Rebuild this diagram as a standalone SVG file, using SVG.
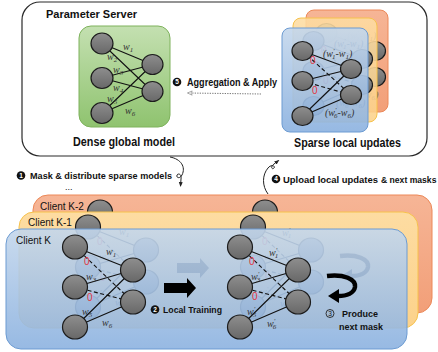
<svg xmlns="http://www.w3.org/2000/svg" width="438" height="352" viewBox="0 0 438 352">
  <style>
    .t { font-family: "Liberation Sans", Arial, sans-serif; fill: #111; }
    .b { font-weight: bold; }
    .m { font-family: "Liberation Serif", "DejaVu Serif", serif; font-style: italic; font-size: 10px; fill: #333; }
    .sb { font-size: 7px; }
    .z { font-family: "Liberation Sans", Arial, sans-serif; font-size: 10px; fill: #e2353d; }
    .nd { fill: url(#gNode); stroke: #1c1c1c; stroke-width: 1.2; }
    .ed { stroke: #111; stroke-width: 1.1; fill: none; }
    .dsh { stroke-dasharray: 4 2.5; }
    .ico { fill: #111; }
    .icot { font-family: "Liberation Sans", Arial, sans-serif; font-size: 6.5px; font-weight: bold; fill: #fff; text-anchor: middle; }
    .conn { fill: none; stroke: #222; stroke-width: 1; }
  </style>
  <defs>
    <linearGradient id="gNode" x1="0" y1="0" x2="0" y2="1">
      <stop offset="0" stop-color="#8e8e8e"/>
      <stop offset="1" stop-color="#686868"/>
    </linearGradient>
    <linearGradient id="gGreen" x1="0" y1="0" x2="0" y2="1">
      <stop offset="0" stop-color="#c4e0b1"/>
      <stop offset="1" stop-color="#8fc36f"/>
    </linearGradient>
    <linearGradient id="gBlue" x1="0" y1="0" x2="0" y2="1">
      <stop offset="0" stop-color="#c4d7ec"/>
      <stop offset="1" stop-color="#8cb2e0"/>
    </linearGradient>
    <linearGradient id="gOrange" x1="0" y1="0" x2="0" y2="1">
      <stop offset="0" stop-color="#f6b596"/>
      <stop offset="1" stop-color="#f29f78"/>
    </linearGradient>
    <linearGradient id="gYellow" x1="0" y1="0" x2="0" y2="1">
      <stop offset="0" stop-color="#fddca2"/>
      <stop offset="1" stop-color="#fcd28a"/>
    </linearGradient>
    <marker id="ah" viewBox="0 0 10 10" refX="8" refY="5" markerWidth="5" markerHeight="5" orient="auto">
      <path d="M0,1 L10,5 L0,9 z" fill="#222"/>
    </marker>
    <marker id="ahg" viewBox="0 0 10 10" refX="8" refY="5" markerWidth="6" markerHeight="6" orient="auto">
      <path d="M9,5 L1,1.5 L3,5 L1,8.5 z" fill="#fff" stroke="#777" stroke-width="1"/>
    </marker>

    <!-- sparse update network drawn on the server-side cards -->
    <g id="snet">
      <path class="ed" d="M302.5,51 L351,69 M302.5,81 L351,69 M302.5,116 L351,69 M302.5,116 L351,95"/>
      <path class="ed dsh" d="M302.5,51 L351,95 M302.5,81 L351,95"/>
      <ellipse class="nd" cx="302.5" cy="51" rx="10.5" ry="9.5"/>
      <ellipse class="nd" cx="302.5" cy="81" rx="10.5" ry="9.5"/>
      <ellipse class="nd" cx="302.5" cy="116" rx="10.5" ry="9.5"/>
      <ellipse class="nd" cx="351" cy="69" rx="10.5" ry="9.5"/>
      <ellipse class="nd" cx="351" cy="95" rx="10.5" ry="9.5"/>
      <text class="m" x="323" y="57" font-size="10.5">(w<tspan class="sb" dy="-4">′</tspan><tspan class="sb" dx="-2.5" dy="6">1</tspan><tspan dy="-2">-w</tspan><tspan class="sb" dy="2">1</tspan><tspan dy="-2">)</tspan></text>
      <text class="m" x="325" y="116" font-size="10.5">(w<tspan class="sb" dy="-4">′</tspan><tspan class="sb" dx="-2.5" dy="6">6</tspan><tspan dy="-2">-w</tspan><tspan class="sb" dy="2">6</tspan><tspan dy="-2">)</tspan></text>
      <text class="z" x="310" y="64">0</text>
      <text class="z" x="312" y="94">0</text>
    </g>

    <!-- client content: current sparse model, trained model and the two step arrows -->
    <g id="cnet">
      <path class="ed" d="M75,247 L133,270 M75,287 L133,270 M75,327 L133,270 M75,327 L133,302"/>
      <path class="ed dsh" d="M75,247 L133,302 M75,287 L133,302"/>
      <ellipse class="nd" cx="75" cy="247" rx="12.5" ry="12"/>
      <ellipse class="nd" cx="75" cy="287" rx="12.5" ry="12"/>
      <ellipse class="nd" cx="75" cy="327" rx="12.5" ry="12"/>
      <ellipse class="nd" cx="133" cy="270" rx="12.5" ry="12"/>
      <ellipse class="nd" cx="133" cy="302" rx="12.5" ry="12"/>
      <text class="m" x="106" y="255">w<tspan class="sb" dy="2">1</tspan></text>
      <text class="m" x="86" y="280">w<tspan class="sb" dy="2">3</tspan></text>
      <text class="m" x="82" y="315">w<tspan class="sb" dy="2">5</tspan></text>
      <text class="m" x="102" y="326">w<tspan class="sb" dy="2">6</tspan></text>
      <text class="z" x="84" y="265">0</text>
      <text class="z" x="87" y="301">0</text>

      <path class="ed" d="M240,247 L298,270 M240,287 L298,270 M240,327 L298,270 M240,327 L298,302"/>
      <path class="ed dsh" d="M240,247 L298,302 M240,287 L298,302"/>
      <ellipse class="nd" cx="240" cy="247" rx="12.5" ry="12"/>
      <ellipse class="nd" cx="240" cy="287" rx="12.5" ry="12"/>
      <ellipse class="nd" cx="240" cy="327" rx="12.5" ry="12"/>
      <ellipse class="nd" cx="298" cy="270" rx="12.5" ry="12"/>
      <ellipse class="nd" cx="298" cy="302" rx="12.5" ry="12"/>
      <text class="m" x="269" y="256">w<tspan class="sb" dy="-4">′</tspan><tspan class="sb" dx="-2.5" dy="6">1</tspan></text>
      <text class="m" x="251" y="280">w<tspan class="sb" dy="-4">′</tspan><tspan class="sb" dx="-2.5" dy="6">3</tspan></text>
      <text class="m" x="247" y="315">w<tspan class="sb" dy="-4">′</tspan><tspan class="sb" dx="-2.5" dy="6">5</tspan></text>
      <text class="m" x="267" y="327">w<tspan class="sb" dy="-4">′</tspan><tspan class="sb" dx="-2.5" dy="6">6</tspan></text>
      <text class="z" x="249" y="265">0</text>
      <text class="z" x="252" y="300">0</text>

      <polygon points="164,283 187,283 187,278 196,288 187,298 187,293 164,293" fill="#000"/>
      <path d="M327,276 C344,274 356,279 355,287 C354,293 347,296 338,296" fill="none" stroke="#000" stroke-width="4.5"/>
      <polygon points="339,289 328,296 339,303" fill="#000"/>
    </g>
  </defs>

  <!-- parameter server -->
  <g id="server">
    <rect x="22" y="2" width="405" height="154" rx="18" fill="#fff" stroke="#2a2a2a" stroke-width="1.2"/>
    <text class="t b" x="46" y="18" font-size="11">Parameter Server</text>
  </g>

  <!-- dense global model -->
  <g id="dense-model">
    <rect x="79" y="26" width="91" height="101" rx="12" fill="url(#gGreen)" stroke="#7eb25c" stroke-width="1"/>
    <path class="ed" d="M102,43.5 L152.5,64.5 M102,43.5 L152.5,91.5 M102,78 L152.5,64.5 M102,78 L152.5,91.5 M102,113 L152.5,64.5 M102,113 L152.5,91.5"/>
    <ellipse class="nd" cx="102" cy="43.5" rx="11" ry="10.5"/>
    <ellipse class="nd" cx="102" cy="78" rx="11" ry="10.5"/>
    <ellipse class="nd" cx="102" cy="113" rx="11" ry="10.5"/>
    <ellipse class="nd" cx="152.5" cy="64.5" rx="10.5" ry="10"/>
    <ellipse class="nd" cx="152.5" cy="91.5" rx="10.5" ry="10"/>
    <text class="m" x="123" y="50" font-size="9.5">w<tspan class="sb" dy="2">1</tspan></text>
    <text class="m" x="107" y="59.5" font-size="9.5">w<tspan class="sb" dy="2">2</tspan></text>
    <text class="m" x="113" y="72.5" font-size="9.5">w<tspan class="sb" dy="2">3</tspan></text>
    <text class="m" x="113" y="91" font-size="9.5">w<tspan class="sb" dy="2">4</tspan></text>
    <text class="m" x="107" y="102" font-size="9.5">w<tspan class="sb" dy="2">5</tspan></text>
    <text class="m" x="125" y="114" font-size="9.5">w<tspan class="sb" dy="2">6</tspan></text>
    <text class="t b" x="73" y="146" font-size="12" textLength="102" lengthAdjust="spacingAndGlyphs">Dense global model</text>
  </g>

  <!-- stacked sparse local updates -->
  <g id="sparse-updates">
    <rect x="306" y="10" width="82" height="102" rx="8" fill="url(#gOrange)" stroke="#ec8858" stroke-width="1"/>
    <use href="#snet" transform="translate(24,-18)"/>
    <rect x="293" y="18" width="84" height="104" rx="8" fill="url(#gYellow)" fill-opacity="0.88" stroke="#f6c24c" stroke-width="1"/>
    <use href="#snet" transform="translate(11,-10)"/>
    <rect x="282" y="28" width="86" height="104" rx="8" fill="url(#gBlue)" fill-opacity="0.91" stroke="#6c9bd2" stroke-width="1"/>
    <use href="#snet"/>
    <text class="t b" x="294" y="147" font-size="12" textLength="107" lengthAdjust="spacingAndGlyphs">Sparse local updates</text>
  </g>

  <!-- client stack -->
  <g id="client-k2">
    <rect x="33" y="195" width="399" height="118" rx="15" fill="url(#gOrange)" stroke="#ec8858" stroke-width="1"/>
    <use href="#cnet" transform="translate(25,-35)"/>
    <text class="t" x="40" y="210" font-size="10" fill="#333">Client K-2</text>
  </g>
  <g id="client-k1">
    <rect x="19" y="212" width="399" height="116" rx="15" fill="url(#gYellow)" stroke="#f6c24c" stroke-width="1"/>
    <use href="#cnet" transform="translate(13,-20)"/>
    <text class="t" x="28" y="226" font-size="10" fill="#333">Client K-1</text>
  </g>
  <g id="client-k">
    <rect x="6" y="229" width="401" height="120" rx="15" fill="url(#gBlue)" fill-opacity="0.9" stroke="#6c9bd2" stroke-width="1"/>
    <use href="#cnet"/>
    <text class="t" x="16" y="244" font-size="10" fill="#333">Client K</text>
    <circle class="ico" cx="155" cy="309.5" r="4.3"/>
    <text class="icot" x="155" y="311.8">2</text>
    <text class="t b" x="163" y="312.5" font-size="9" textLength="59" lengthAdjust="spacingAndGlyphs">Local Training</text>
    <circle cx="330" cy="313.5" r="4" fill="none" stroke="#222" stroke-width="0.9"/>
    <text class="t" x="330" y="316" font-size="6.5" text-anchor="middle">3</text>
    <text class="t b" x="342" y="317" font-size="9.5" textLength="36" lengthAdjust="spacingAndGlyphs">Produce</text>
    <text class="t b" x="339" y="330" font-size="9.5" textLength="44" lengthAdjust="spacingAndGlyphs">next mask</text>
  </g>

  <!-- server/client exchange arrows and step labels -->
  <g id="connectors">
    <path class="conn" d="M170,157 C181,159 186,167 182,175 C180,179 176,178 177,175 C178,173 182,174 181,179 L180.5,186" marker-end="url(#ah)"/>
    <path class="conn" d="M268,194 C262,186 262,175 268,168 C271,164 276,166 274,168 C272,170 270,167 274,164 L278.5,160.5" marker-end="url(#ah)"/>
    <path d="M261,94 L188,93" fill="none" stroke="#777" stroke-width="1" stroke-dasharray="1.3 1.2" marker-end="url(#ahg)"/>
  </g>

  <g id="step-labels">
    <circle class="ico" cx="21" cy="175.5" r="4.3"/>
    <text class="icot" x="21" y="177.8">1</text>
    <text class="t b" x="30" y="178.5" font-size="9.5" textLength="142" lengthAdjust="spacingAndGlyphs">Mask &amp; distribute sparse models</text>
    <text class="t" x="65" y="190" font-size="9">...</text>
    <circle class="ico" cx="276" cy="179" r="4.3"/>
    <text class="icot" x="276" y="181.3">4</text>
    <text class="t b" x="283" y="182.5" font-size="9.5" textLength="95" lengthAdjust="spacingAndGlyphs">Upload local updates</text>
    <text class="t b" x="381" y="182.5" font-size="8.6">&amp; next masks</text>
    <circle class="ico" cx="177" cy="82" r="4.3"/>
    <text class="icot" x="177" y="84.3">5</text>
    <text class="t b" x="187" y="86" font-size="10" textLength="90" lengthAdjust="spacingAndGlyphs">Aggregation &amp; Apply</text>
  </g>
</svg>
